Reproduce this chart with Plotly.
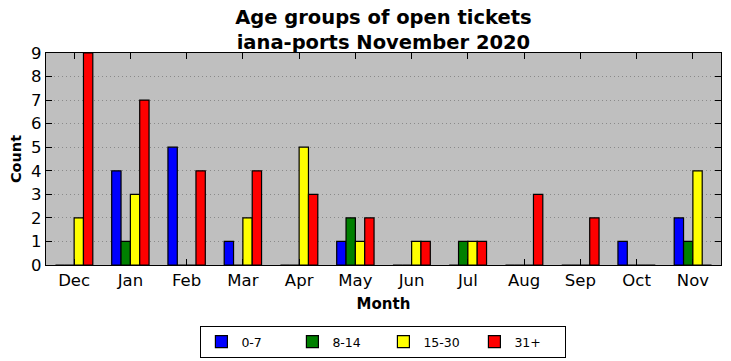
import plotly.graph_objects as go

months = ["Dec", "Jan", "Feb", "Mar", "Apr", "May", "Jun", "Jul", "Aug", "Sep", "Oct", "Nov"]
age_0_7 = [0, 4, 5, 1, 0, 1, 0, 0, 0, 0, 1, 2]
age_8_14 = [0, 1, 0, 0, 0, 2, 0, 1, 0, 0, 0, 1]
age_15_30 = [2, 3, 0, 2, 5, 1, 1, 1, 0, 0, 0, 4]
age_31p = [9, 7, 4, 4, 3, 2, 1, 1, 3, 2, 0, 0]
series_names = ["0-7", "8-14", "15-30", "31+"]
series_colors = ["#0000ff", "#008000", "#ffff00", "#ff0000"]

FONT = "DejaVu Sans"
fig = go.Figure()
for name, vals, col in zip(series_names, [age_0_7, age_8_14, age_15_30, age_31p], series_colors):
    fig.add_trace(go.Bar(
        x=months, y=vals, name=name,
        marker=dict(color=col, line=dict(color="black", width=1.2)),
    ))

fig.update_layout(
    width=731, height=361,
    margin=dict(l=46, r=10, t=53, b=96),
    paper_bgcolor="white",
    plot_bgcolor="#bfbfbf",
    barmode="group", bargap=0.336, bargroupgap=0,
    font=dict(family=FONT, color="black", size=16),
    title=dict(
        text="<b>Age groups of open tickets<br>iana-ports November 2020</b>",
        x=0.5245, xanchor="center", yref="container", y=1 - 23.5 / 361, yanchor="middle",
        font=dict(family=FONT, size=19.5, color="black"),
        automargin=False,
    ),
    legend=dict(
        orientation="h", x=0.5245, xanchor="center", xref="container",
        yref="container", y=1 - 326 / 361, yanchor="top",
        bordercolor="black", borderwidth=1, bgcolor="white",
        font=dict(family=FONT, size=12.5),
        entrywidth=46, entrywidthmode="pixels",
    ),
    showlegend=True,
)
fig.update_xaxes(
    range=[-0.5, 11.5], automargin=False,
    showline=True, linecolor="black", linewidth=1.2, mirror="allticks",
    ticks="inside", ticklen=6, tickcolor="black",
    showgrid=False,
    tickfont=dict(size=16.5),
    title=dict(text="<b>Month</b>", font=dict(size=15), standoff=9),
)
fig.update_yaxes(
    range=[0, 9], dtick=1, automargin=False,
    showline=True, linecolor="black", linewidth=1.2, mirror="allticks",
    ticks="inside", ticklen=6, tickcolor="black",
    showgrid=True, gridcolor="#8a8a8a", griddash="1px,3px", gridwidth=1,
    zeroline=False,
    tickfont=dict(size=16.5),
    title=dict(text="<b>Count</b>", font=dict(size=14.5), standoff=6),
)
fig.write_html("out.html", config={"displayModeBar": False},
               post_script="document.body.style.margin='0';")
